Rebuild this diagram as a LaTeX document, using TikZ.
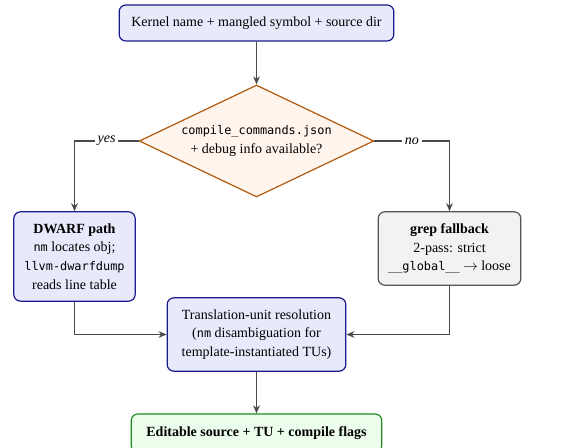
\documentclass[tikz,border=0pt]{standalone}
\usepackage{fontspec}
\setmainfont{Liberation Serif}
\setmonofont{DejaVu Sans Mono}[Scale=0.85]
\usetikzlibrary{positioning, arrows.meta, shapes.geometric}
\definecolor{stepblue}{HTML}{E8EAFC}
\definecolor{stepborder}{HTML}{1A1A8C}
\definecolor{askfill}{HTML}{FFF5EC}
\definecolor{askborder}{HTML}{B05A10}
\definecolor{fallfill}{HTML}{F2F2F2}
\definecolor{fallborder}{HTML}{555555}
\definecolor{donefill}{HTML}{EDFDEB}
\definecolor{doneborder}{HTML}{238A23}
\definecolor{wire}{HTML}{4A4A4A}
\tikzstyle{arrow} = [line width=0.9pt, draw=wire, -{Stealth[length=6pt, width=5pt]}]

\begin{document}
\begin{tikzpicture}[x=0.75pt, y=-0.75pt, nodes={font=\fontsize{10.5}{14}\selectfont}]
                \tikzstyle{stepbox} = [rectangle, rounded corners=5pt, line width=0.9pt, draw=stepborder, fill=stepblue, align=center, inner sep=2pt]
                \tikzstyle{askbox} = [diamond, shape aspect=2.1, line width=0.9pt, draw=askborder, fill=askfill, align=center, inner sep=0pt]
                \tikzstyle{branch} = [fill=white, inner sep=2pt, font=\itshape\fontsize{10.5}{14}\selectfont]

                \useasboundingbox (0,0) rectangle (578,448);

                % inputs and the check
                \node[stepbox, minimum width=206pt, minimum height=27pt](input) at (256.5,23) {Kernel name + mangled symbol + source dir};
                \node[askbox, minimum width=176pt, minimum height=84pt](check) at (256.5,141) {\texttt{compile\_commands.json}\\+ debug info available?};

                % the two paths
                \node[stepbox, minimum width=91pt, minimum height=67pt](dwarf) at (74.5,256.5) {\textbf{DWARF path}\\\texttt{nm} locates obj;\\\texttt{llvm-dwarfdump}\\reads line table};
                \node[stepbox, draw=fallborder, fill=fallfill, minimum width=107pt, minimum height=55pt](grep) at (449.5,248.5) {\textbf{grep fallback}\\2-pass: strict\\\texttt{\_\_global\_\_} $\rightarrow$ loose};

                % resolution and result
                \node[stepbox, minimum width=134pt, minimum height=55pt](unit) at (256.5,334.5) {Translation-unit resolution\\(\texttt{nm} disambiguation for\\template-instantiated TUs)};
                \node[stepbox, draw=doneborder, fill=donefill, minimum width=188pt, minimum height=28.5pt](result) at (256.5,433) {\textbf{Editable source + TU + compile flags}};

                \draw[arrow] (input) -- (check);
                \draw[arrow] (check.west) -- node[branch]{yes} (dwarf.north |- check.west) -- (dwarf.north);
                \draw[arrow] (check.east) -- node[branch]{no} (grep.north |- check.east) -- (grep.north);
                \draw[arrow] (dwarf.south) |- (unit.west);
                \draw[arrow] (grep.south) |- (unit.east);
                \draw[arrow] (unit) -- (result);

        \end{tikzpicture}
\end{document}
